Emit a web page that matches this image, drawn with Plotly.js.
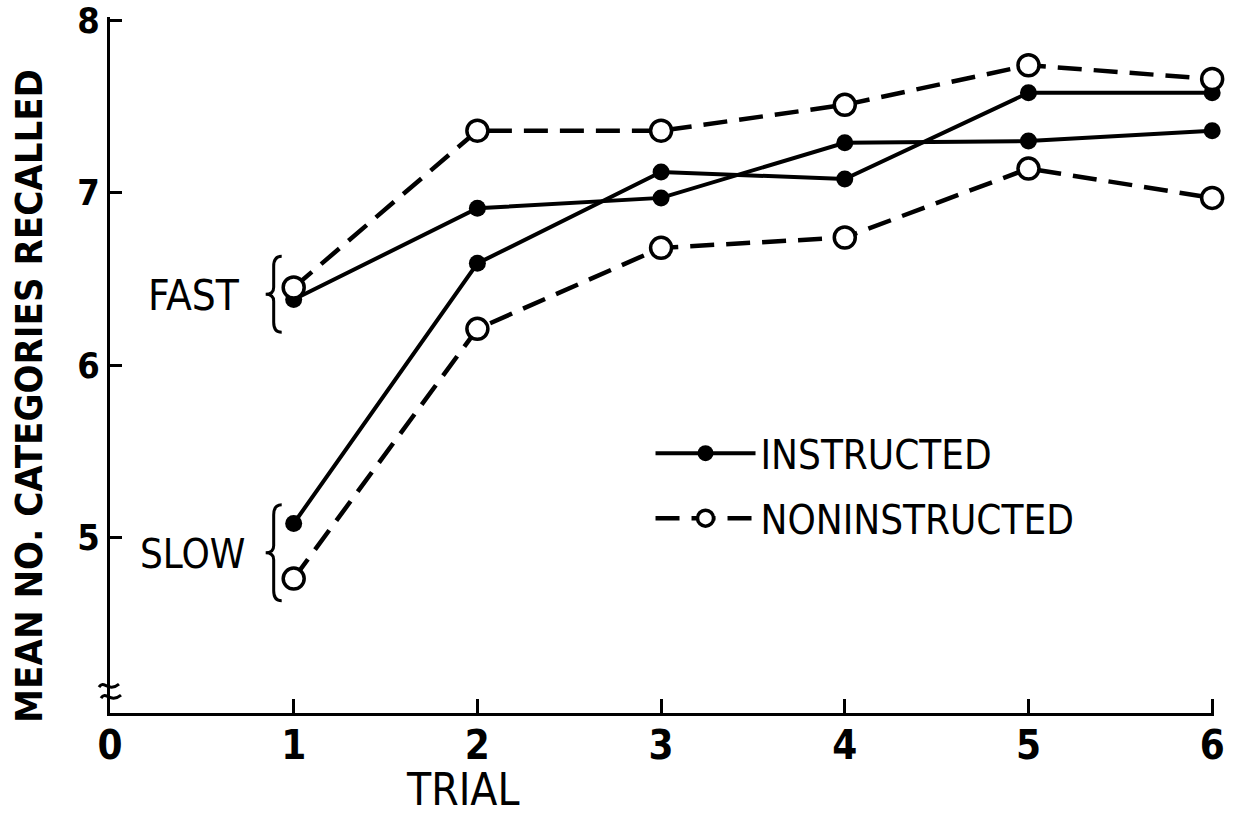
<!DOCTYPE html>
<html>
<head>
<meta charset="utf-8">
<script src="https://cdn.plot.ly/plotly-3.0.1.min.js"></script>
<style>html,body{margin:0;padding:0;background:#fff;}#chart{width:1236px;height:815px;}</style>
</head>
<body>
<div id="chart"></div>
<script>
// ---- data ----
const trials = [1, 2, 3, 4, 5, 6];
const fastInstructed    = [6.38, 6.91, 6.97, 7.29, 7.30, 7.36];
const slowInstructed    = [5.08, 6.59, 7.12, 7.08, 7.58, 7.58];
const fastNoninstructed = [6.45, 7.36, 7.36, 7.51, 7.74, 7.66];
const slowNoninstructed = [4.76, 6.21, 6.68, 6.74, 7.14, 6.97];
const xTickVals = [0, 1, 2, 3, 4, 5, 6];
const xTickText = ['0', '1', '2', '3', '4', '5', '6'];
const yTickVals = [5, 6, 7, 8];
const yTickText = ['5', '6', '7', '8'];
const seriesNames = ['INSTRUCTED', 'NONINSTRUCTED'];
const groupLabels = ['FAST', 'SLOW'];
const xTitle = 'TRIAL';
const yTitle = 'MEAN NO. CATEGORIES RECALLED';

// ---- styling ----
const FONT = "'DejaVu Sans Condensed', 'Liberation Sans Narrow', 'Arial Narrow', sans-serif";
const INK = '#000';

function instructedTrace(y, showLeg) {
  return {
    x: trials, y: y, type: 'scatter', mode: 'lines+markers',
    name: seriesNames[0], legendgroup: 'ins', showlegend: showLeg,
    line: {color: INK, width: 4},
    marker: {symbol: 'circle', size: 17, color: INK},
    cliponaxis: false, hoverinfo: 'x+y'
  };
}
function noninstructedTrace(y, showLeg) {
  return {
    x: trials, y: y, type: 'scatter', mode: 'lines+markers',
    name: seriesNames[1], legendgroup: 'non', showlegend: showLeg,
    line: {color: INK, width: 4.5, dash: '24px,12px'},
    marker: {symbol: 'circle', size: 21, color: '#fff', line: {color: INK, width: 3.5}},
    cliponaxis: false, hoverinfo: 'x+y'
  };
}

const data = [
  instructedTrace(fastInstructed, true),
  instructedTrace(slowInstructed, false),
  noninstructedTrace(fastNoninstructed, true),
  noninstructedTrace(slowNoninstructed, false)
];

function brace(yAnchor, half) {
  const h = half;
  return {
    type: 'path', xref: 'x', yref: 'y',
    xsizemode: 'pixel', ysizemode: 'pixel', xanchor: 1, yanchor: yAnchor,
    path: `M-12,${h} Q-20,${h} -20,${h-10} L-20,7 Q-20,0 -28,0 Q-20,0 -20,-7 L-20,${-h+10} Q-20,${-h} -12,${-h}`,
    line: {color: INK, width: 3}
  };
}

const layout = {
  width: 1236, height: 815,
  margin: {l: 110, r: 22, t: 17, b: 102, pad: 0},
  paper_bgcolor: '#fff', plot_bgcolor: '#fff',
  font: {family: FONT, color: INK},
  showlegend: true,
  legend: {
    x: 0.4896, y: 0.42, xanchor: 'left', yanchor: 'top',
    bgcolor: 'rgba(0,0,0,0)', borderwidth: 0,
    font: {family: FONT, size: 40, color: INK},
    tracegroupgap: 10, traceorder: 'grouped', itemwidth: 100
  },
  xaxis: {
    range: [0, 6.01], showgrid: false, zeroline: false,
    showline: true, linecolor: INK, linewidth: 3,
    ticks: 'inside', ticklen: 14, tickwidth: 3, tickcolor: INK,
    tickvals: xTickVals, ticktext: xTickText,
    tickfont: {family: FONT, size: 40, color: INK, weight: 'bold'},
    ticklabelstandoff: -5, ticklabeloverflow: 'allow', fixedrange: true
  },
  yaxis: {
    range: [3.98, 8.02], showgrid: false, zeroline: false,
    showline: true, linecolor: INK, linewidth: 3,
    ticks: 'inside', ticklen: 12, tickwidth: 3, tickcolor: INK,
    tickvals: yTickVals, ticktext: yTickText,
    tickfont: {family: FONT, size: 36, color: INK, weight: 'bold'},
    ticklabelstandoff: 0, ticklabeloverflow: 'allow', fixedrange: true
  },
  annotations: [
    {text: yTitle, xref: 'paper', yref: 'paper', x: -0.074, y: 0.456,
     xanchor: 'center', yanchor: 'middle', textangle: -90, showarrow: false,
     font: {family: FONT, size: 38, color: INK, weight: 'bold'}},
    {text: xTitle, xref: 'paper', yref: 'paper', x: 0.319, y: -0.110,
     xanchor: 'center', yanchor: 'middle', showarrow: false,
     font: {family: FONT, size: 44, color: INK}},
    {text: groupLabels[0], xref: 'paper', yref: 'paper', x: 0.12, y: 0.60,
     xanchor: 'right', yanchor: 'middle', showarrow: false,
     font: {family: FONT, size: 42, color: INK}},
    {text: groupLabels[1], xref: 'paper', yref: 'paper', x: 0.1245, y: 0.228,
     xanchor: 'right', yanchor: 'middle', showarrow: false,
     font: {family: FONT, size: 40, color: INK}}
  ],
  shapes: [
    brace(6.41, 38),
    brace(4.91, 48),
    {type: 'path', xref: 'paper', yref: 'paper', xsizemode: 'pixel', ysizemode: 'pixel',
     xanchor: 0, yanchor: 0.03,
     path: 'M-11,5 C-6,13 -2,-1 9,8 M-9,-6 C-4,2 0,-12 11,-3',
     line: {color: INK, width: 3}}
  ]
};

Plotly.newPlot('chart', data, layout, {displayModeBar: false, staticPlot: true});
</script>
</body>
</html>
